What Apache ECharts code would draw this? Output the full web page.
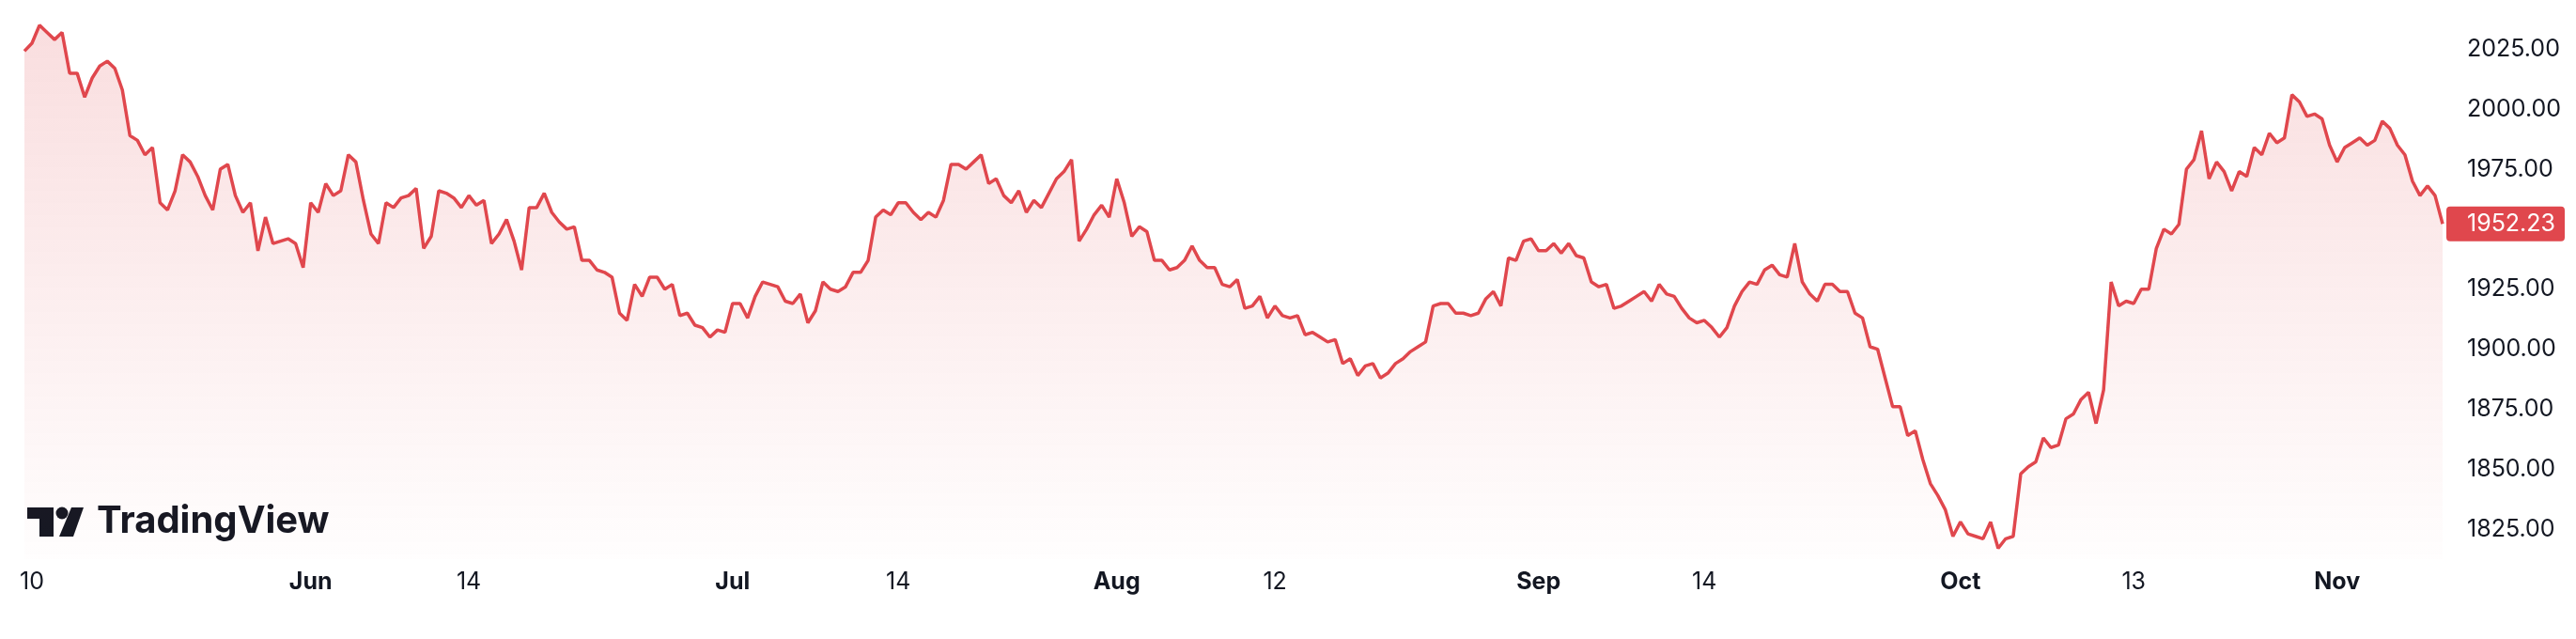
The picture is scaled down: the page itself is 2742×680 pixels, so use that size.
<!DOCTYPE html>
<html><head><meta charset="utf-8">
<script src="https://cdn.jsdelivr.net/npm/echarts@6/dist/echarts.min.js"></script>
<style>html,body{margin:0;padding:0;background:#fff}#c{width:2742px;height:680px}</style>
</head><body><div id="c"></div>
<script>
const prices = [
2024.2,2027.5,2035,2032,2029,2032,2015,2015,2005,2013,2018,2020,2017,2008,1989,1987,1981,1984,1961,1958,
1966,1981,1978,1972,1964,1958,1975,1977,1964,1957,1961,1941,1955,1944,1945,1946,1944,1934,1961,1957,
1969,1964,1966,1981,1978,1962,1948,1944,1961,1959,1963,1964,1967,1942,1947,1966,1965,1963,1959,1964,
1960,1962,1944,1948,1954,1945,1933,1959,1959,1965,1957,1953,1950,1951,1937,1937,1933,1932,1930,1915,
1912,1927,1922,1930,1930,1925,1927,1914,1915,1910,1909,1905,1908,1907,1919,1919,1913,1922,1928,1927,
1926,1920,1919,1923,1911,1916,1928,1925,1924,1926,1932,1932,1937,1955,1958,1956,1961,1961,1957,1954,
1957,1955,1962,1977,1977,1975,1978,1981,1969,1971,1964,1961,1966,1957,1962,1959,1965,1971,1974,1979,
1945,1950,1956,1960,1955,1971,1961,1947,1951,1949,1937,1937,1933,1934,1937,1943,1937,1934,1934,1927,
1926,1929,1917,1918,1922,1913,1918,1914,1913,1914,1906,1907,1905,1903,1904,1894,1896,1889,1893,1894,
1888,1890,1894,1896,1899,1901,1903,1918,1919,1919,1915,1915,1914,1915,1921,1924,1918,1938,1937,1945,
1946,1941,1941,1944,1940,1944,1939,1938,1928,1926,1927,1917,1918,1920,1922,1924,1920,1927,1923,1922,
1917,1913,1911,1912,1909,1905,1909,1918,1924,1928,1927,1933,1935,1931,1930,1944,1928,1923,1920,1927,
1927,1924,1924,1915,1913,1901,1900,1888,1876,1876,1864,1866,1854,1844,1839,1833,1822,1828,1823,1822,
1821,1828,1817,1821,1822,1848,1851,1853,1863,1859,1860,1871,1873,1879,1882,1869,1883,1928,1918,1920,
1919,1925,1925,1942,1950,1948,1952,1975,1979,1991,1971,1978,1974,1966,1974,1972,1984,1981,1990,1986,
1988,2006,2003,1997,1998,1996,1985,1978,1984,1986,1988,1985,1987,1995,1992,1985,1981,1970,1964,1968,
1964,1952.23
];
const tickIndex = [1,38,59,94,116,145,166,201,223,257,280,307];
const tickText = ['10','Jun','14','Jul','14','Aug','12','Sep','14','Oct','13','Nov'];
const monthLabels = ['Jun','Jul','Aug','Sep','Oct','Nov'];
const yTicks = [1825,1850,1875,1900,1925,1950,1975,2000,2025];
const lastPrice = 1952.23;

const cats = prices.map((_, i) => { const k = tickIndex.indexOf(i); return k >= 0 ? tickText[k] : ''; });
const chart = echarts.init(document.getElementById('c'));
const RED = '#e0474d';
chart.setOption({
  animation: false,
  grid: {left: 26, right: 142, top: 0, height: 595},
  xAxis: {
    type: 'category', data: cats, boundaryGap: false,
    axisLine: {show: false}, axisTick: {show: false}, splitLine: {show: false},
    axisLabel: {
      interval: (i) => tickIndex.indexOf(i) >= 0, margin: 12,
      fontFamily: 'Inter', fontSize: 25, color: '#131722',
      formatter: (v) => monthLabels.indexOf(v) >= 0 ? '{b|' + v + '}' : v,
      rich: {b: {fontWeight: 'bold', fontFamily: 'Inter', fontSize: 25, color: '#131722'}}
    }
  },
  yAxis: {
    type: 'value', position: 'right', min: 1812.5, max: 2045.5,
    axisLine: {show: false}, axisTick: {show: false}, splitLine: {show: false},
    axisLabel: {customValues: yTicks, margin: 26, fontFamily: 'Inter', fontSize: 25, color: '#131722',
      formatter: (v) => v.toFixed(2)}
  },
  series: [{
    type: 'line', data: prices, showSymbol: false, symbol: 'none',
    lineStyle: {color: RED, width: 3.5},
    areaStyle: {origin: 'start', color: new echarts.graphic.LinearGradient(0, 0, 0, 1, [
      {offset: 0, color: 'rgba(224,71,77,0.26)'}, {offset: 1, color: 'rgba(224,71,77,0.01)'}])},
    markLine: {
      symbol: 'none', silent: true, lineStyle: {color: 'transparent', width: 0},
      data: [{yAxis: lastPrice}],
      label: {show: true, position: 'end', distance: 4, formatter: () => lastPrice.toFixed(2),
        backgroundColor: RED, color: '#fff', fontFamily: 'Inter', fontSize: 25,
        padding: [6, 10, 6, 22], borderRadius: 4}
    }
  }],
  graphic: [
    {type: 'rect', shape: {x: 29, y: 540, width: 28, height: 12}, style: {fill: '#131722'}},
    {type: 'rect', shape: {x: 42, y: 540, width: 15, height: 31}, style: {fill: '#131722'}},
    {type: 'circle', shape: {cx: 66, cy: 546, r: 6.5}, style: {fill: '#131722'}},
    {type: 'polygon', shape: {points: [[76, 540], [89, 540], [78, 571], [63, 571]]}, style: {fill: '#131722'}},
    {type: 'text', left: 103, top: 535, style: {text: 'TradingView', font: 'bold 40px Inter', fill: '#131722'}}
  ]
});
</script></body></html>
